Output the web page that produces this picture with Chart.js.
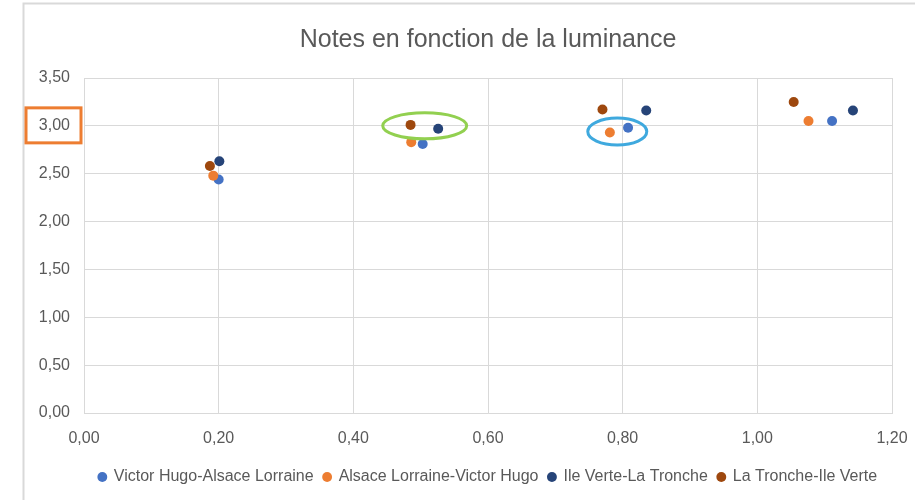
<!DOCTYPE html>
<html>
<head>
<meta charset="utf-8">
<script src="https://cdn.jsdelivr.net/npm/chart.js@4/dist/chart.umd.min.js"></script>
<style>
    body { margin: 0; background: #fff; }
    #chart { display: block; }
</style>
</head>
<body>
<canvas id="chart" width="915" height="500"></canvas>
<script>
// luminance (x) et notes (y) par trajet
const seriesNames = ["Victor Hugo-Alsace Lorraine", "Alsace Lorraine-Victor Hugo", "Ile Verte-La Tronche", "La Tronche-Ile Verte"]
const seriesColors = ["#4472C4", "#ED7D31", "#264478", "#9E480E"]

const vhAlX = [0.200, 0.503, 0.808, 1.111]
const vhAlY = [2.44, 2.81, 2.98, 3.05]
const alVhX = [0.192, 0.486, 0.781, 1.076]
const alVhY = [2.48, 2.83, 2.93, 3.05]
const ivLtX = [0.201, 0.526, 0.835, 1.142]
const ivLtY = [2.63, 2.97, 3.16, 3.16]
const ltIvX = [0.187, 0.485, 0.770, 1.054]
const ltIvY = [2.58, 3.01, 3.17, 3.25]

const xTicks = [0, 0.2, 0.4, 0.6, 0.8, 1.0, 1.2]
const yTicks = [0, 0.5, 1.0, 1.5, 2.0, 2.5, 3.0, 3.5]

const textColor = "#595959"
const gridColor = "#D9D9D9"
const fontFamily = "'Liberation Sans', Arial, sans-serif"

function toPoints(xs, ys){
    let pts = []
    xs.forEach((x, i) => {
        pts.push({x: x, y: ys[i]})
    })
    return pts
}

function frNumber(v){
    return v.toFixed(2).replace(".", ",")
}

const allSeries = [[vhAlX, vhAlY], [alVhX, alVhY], [ivLtX, ivLtY], [ltIvX, ltIvY]]

let datasets = allSeries.map((s, i) => {
    return {
        label: seriesNames[i],
        data: toPoints(s[0], s[1]),
        backgroundColor: seriesColors[i],
        borderColor: seriesColors[i],
        borderWidth: 0,
        pointRadius: 5,
        pointHoverRadius: 5,
        order: allSeries.length - 1 - i // excel dessine la derniere serie au dessus
    }
})

// cadre gris + les surlignages (ellipses, rectangle)
const highlights = {
    id: "highlights",
    beforeDraw(chart){
        const ctx = chart.ctx
        ctx.save()
        ctx.strokeStyle = "#D9D9D9"
        ctx.lineWidth = 2
        ctx.beginPath()
        ctx.moveTo(23.5, chart.height)
        ctx.lineTo(23.5, 3.5)
        ctx.lineTo(chart.width, 3.5)
        ctx.stroke()
        ctx.restore()
    },
    afterDraw(chart){
        const ctx = chart.ctx
        const xs = chart.scales.x
        const ys = chart.scales.y
        ctx.save()
        ctx.lineWidth = 3

        // ellipse verte
        ctx.strokeStyle = "#92D050"
        ctx.beginPath()
        ctx.ellipse(xs.getPixelForValue(0.506), ys.getPixelForValue(3.0), 42, 13, 0, 0, Math.PI * 2)
        ctx.stroke()

        // ellipse bleue
        ctx.strokeStyle = "#3FA9DE"
        ctx.beginPath()
        ctx.ellipse(xs.getPixelForValue(0.792), ys.getPixelForValue(2.94), 29.5, 13.5, 0, 0, Math.PI * 2)
        ctx.stroke()

        // rectangle autour de 3,00
        ctx.strokeStyle = "#ED7D31"
        let y3 = ys.getPixelForValue(3.0)
        ctx.strokeRect(26, y3 - 18, 55, 35)
        ctx.restore()
    }
}

new Chart(document.getElementById("chart"), {
    type: "scatter",
    data: { datasets: datasets },
    options: {
        responsive: false,
        animation: false,
        events: [],
        layout: { padding: { left: 0, right: 23, top: 0, bottom: 5 } },
        scales: {
            x: {
                type: "linear",
                min: 0,
                max: 1.2,
                afterBuildTicks: (s) => { s.ticks = xTicks.map(v => ({value: v})) },
                afterFit: (s) => {
                    s.height = 46
                    s.paddingLeft = 0
                    s.paddingRight = 0
                },
                grid: { color: gridColor, drawTicks: false },
                border: { color: gridColor },
                ticks: {
                    color: textColor,
                    padding: 16,
                    font: { family: fontFamily, size: 16 },
                    callback: (v) => frNumber(v)
                }
            },
            y: {
                type: "linear",
                min: 0,
                max: 3.5,
                afterBuildTicks: (s) => { s.ticks = yTicks.map(v => ({value: v})) },
                afterFit: (s) => { s.width = 84 },
                grid: { color: gridColor, drawTicks: false },
                border: { color: gridColor },
                ticks: {
                    color: textColor,
                    padding: 14,
                    font: { family: fontFamily, size: 16 },
                    callback: (v) => frNumber(v)
                }
            }
        },
        plugins: {
            title: {
                display: true,
                fullSize: false,
                text: "Notes en fonction de la luminance",
                color: textColor,
                font: { family: fontFamily, size: 25, weight: "normal" },
                padding: { top: 25, bottom: 23 }
            },
            legend: {
                position: "bottom",
                fullSize: false,
                labels: {
                    color: textColor,
                    usePointStyle: true,
                    pointStyle: "circle",
                    boxWidth: 7,
                    boxHeight: 7,
                    padding: 10,
                    font: { family: fontFamily, size: 16 },
                    sort: (a, b) => a.datasetIndex - b.datasetIndex
                }
            },
            tooltip: { enabled: false }
        }
    },
    plugins: [highlights]
})
</script>
</body>
</html>
